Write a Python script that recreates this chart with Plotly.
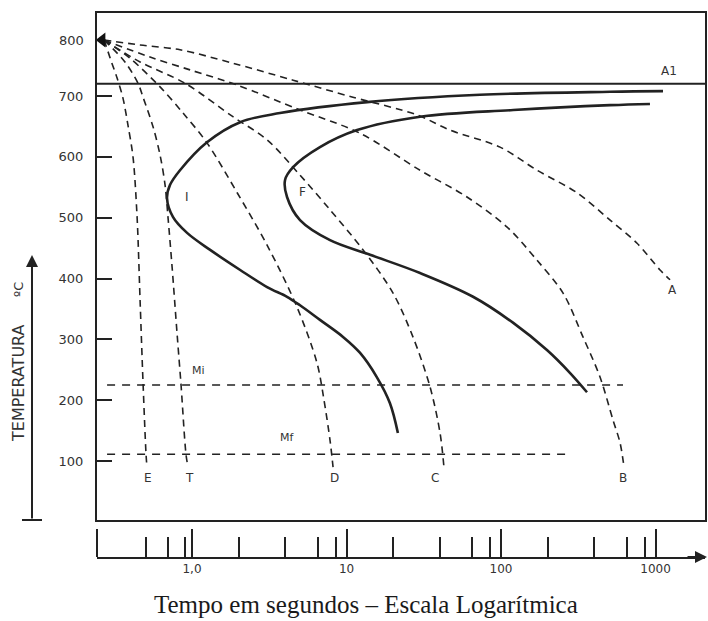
import math
import plotly.graph_objects as go

# ---- data (time in s, temperature in °C) ----
start_t, start_T = 0.27, 792

E_t = [0.27, 0.303, 0.327, 0.357, 0.385, 0.415, 0.441, 0.461, 0.482, 0.504, 0.511]
E_T = [792, 754, 730, 697, 652, 600, 501, 365, 228, 111, 90]

T_t = [0.27, 0.368, 0.447, 0.482, 0.560, 0.621, 0.669, 0.699, 0.743, 0.800, 0.849, 0.914, 0.942]
T_T = [792, 756, 721, 698, 649, 603, 554, 501, 419, 310, 225, 111, 90]

D_t = [0.27, 0.397, 0.621, 0.875, 1.25, 1.96, 3.06, 4.78, 6.44, 7.15, 7.82, 8.18]
D_T = [792, 762, 715, 672, 623, 541, 455, 353, 261, 200, 134, 90]

C_t = [0.27, 0.461, 0.901, 1.84, 3.06, 5.00, 7.82, 12.8, 20.0, 26.9, 34.7, 40.3, 42.7]
C_T = [792, 756, 721, 666, 628, 570, 513, 447, 376, 304, 222, 146, 90]

B_t = [0.27, 0.535, 0.97, 1.96, 5.0, 12.2, 29.9, 60.2, 109, 171, 252, 339, 437, 531, 589, 625]
B_T = [792, 764, 743, 718, 677, 639, 578, 534, 485, 430, 376, 304, 238, 167, 130, 90]

A_t = [0.27, 0.461, 0.836, 1.84, 4.51, 11.0, 28.6, 46.7, 98.5, 171, 310, 508, 759, 1069, 1241]
A_T = [792, 784, 776, 754, 726, 698, 669, 644, 616, 578, 541, 496, 458, 414, 398]

I_t = [1117, 508, 73.1, 13.6, 3.71, 2.05, 1.25, 0.836, 0.721, 0.689, 0.754, 0.929, 1.31,
       2.05, 3.06, 4.12, 5.00, 6.73, 9.49, 12.2, 15.7, 19.1, 21.5]
I_T = [708, 707, 702, 690, 672, 657, 624, 578, 554, 532, 501, 475, 447,
       414, 386, 370, 356, 332, 304, 278, 238, 195, 146]

F_t = [920, 508, 120, 29.9, 11.7, 6.73, 4.51, 4.0, 4.12, 5.0, 7.82, 14.2, 29.9, 65.9,
       120, 199, 279, 360]
F_T = [687, 685, 677, 666, 644, 616, 583, 562, 534, 496, 463, 439, 409, 370,
       327, 282, 245, 213]

A1_T = 720
Mi_t, Mi_T = [0.282, 616], 225
Mf_t, Mf_T = [0.282, 267], 111

curve_labels = ["E", "T", "D", "C", "B", "A"]
curve_label_t = [0.519, 0.956, 8.30, 37.4, 616, 1278]
curve_label_T = [72, 72, 72, 72, 72, 381]

other_labels = ["A1", "Mi", "Mf", "I", "F"]
other_label_t = [1222, 1.1, 4.12, 0.929, 5.15]
other_label_T = [741, 248, 139, 534, 542]
other_label_size = [12, 11, 11, 12, 12]

y_ticks = [100, 200, 300, 400, 500, 600, 700]
x_major = [1, 10, 100, 1000]
x_major_text = ["1,0", "10", "100", "1000"]
x_minor = [0.5, 0.7, 0.9, 2, 4, 6.5, 8.5, 20, 40, 65, 85, 200, 400, 650, 850]

XR = [-0.615, 3.32]
YR = [3, 836.5]
INK = "#222222"
TXT = "#333333"
W, H = 708, 621

fig = go.Figure()

dash_style = dict(color=INK, width=1.6, dash="7px,5px", shape="spline", smoothing=0.9)
for tt, TT in [(E_t, E_T), (T_t, T_T), (D_t, D_T), (C_t, C_T), (B_t, B_T), (A_t, A_T)]:
    fig.add_trace(go.Scatter(x=tt, y=TT, mode="lines", line=dash_style, hoverinfo="skip"))

solid_style = dict(color=INK, width=2.6, shape="spline", smoothing=1.0)
fig.add_trace(go.Scatter(x=I_t, y=I_T, mode="lines", line=solid_style, hoverinfo="skip"))
fig.add_trace(go.Scatter(x=F_t, y=F_T, mode="lines", line=solid_style, hoverinfo="skip"))

# Mi / Mf lines
hd = dict(color=INK, width=1.6, dash="8px,7px")
fig.add_trace(go.Scatter(x=Mi_t, y=[Mi_T, Mi_T], mode="lines", line=hd, hoverinfo="skip"))
fig.add_trace(go.Scatter(x=Mf_t, y=[Mf_T, Mf_T], mode="lines", line=hd, hoverinfo="skip"))

# start marker
fig.add_trace(go.Scatter(x=[0.262], y=[start_T], mode="markers",
                         marker=dict(symbol="triangle-left", size=13, color="#111"),
                         hoverinfo="skip"))

# bottom axis carrier (invisible)
fig.add_trace(go.Scatter(x=[1], y=[0.5], xaxis="x2", yaxis="y2", mode="markers",
                         marker=dict(opacity=0), hoverinfo="skip"))

ann = []
for s, tx, ty in zip(curve_labels, curve_label_t, curve_label_T):
    ann.append(dict(x=math.log10(tx), y=ty, xref="x", yref="y", text=s, showarrow=False,
                    font=dict(family="DejaVu Sans", size=12, color=TXT)))
for s, tx, ty, fs in zip(other_labels, other_label_t, other_label_T, other_label_size):
    ann.append(dict(x=math.log10(tx), y=ty, xref="x", yref="y", text=s, showarrow=False,
                    font=dict(family="DejaVu Sans", size=fs, color=TXT)))
# 800 label (no tick mark in the original)
ann.append(dict(x=97 / W, y=start_T, xref="paper", yref="y", text="800", showarrow=False,
                xanchor="right", xshift=-11,
                font=dict(family="DejaVu Sans", size=13, color=TXT)))
# left temperature arrow and labels
ann.append(dict(x=32 / W, y=(H - 255) / H, xref="paper", yref="paper", ax=0, ay=265,
                showarrow=True, arrowhead=2, arrowsize=1.2, arrowwidth=2, arrowcolor=INK, text=""))
ann.append(dict(x=18 / W, y=(H - 290) / H, xref="paper", yref="paper", text="ºC", textangle=-90,
                xanchor="center", yanchor="middle", showarrow=False,
                font=dict(family="DejaVu Sans", size=13, color=TXT)))
ann.append(dict(x=18 / W, y=(H - 383) / H, xref="paper", yref="paper", text="TEMPERATURA",
                textangle=-90, xanchor="center", yanchor="middle", showarrow=False,
                font=dict(family="DejaVu Sans", size=16, color=TXT)))
# bottom axis arrow
ann.append(dict(x=1.0, y=(H - 557) / H, xref="paper", yref="paper", ax=-22, ay=0,
                showarrow=True, arrowhead=2, arrowsize=1.2, arrowwidth=2, arrowcolor=INK, text=""))
# title
ann.append(dict(x=366 / W, y=(H - 604) / H, xref="paper", yref="paper",
                xanchor="center", yanchor="middle",
                text="Tempo em segundos – Escala Logarítmica", showarrow=False,
                font=dict(family="Liberation Serif", size=25, color="#1a1a1a")))

shapes = [
    dict(type="line", xref="x domain", x0=0, x1=1, yref="y", y0=A1_T, y1=A1_T,
         line=dict(color=INK, width=2)),
    dict(type="line", xref="paper", x0=97 / W, x1=97 / W, yref="paper",
         y0=(H - 557) / H, y1=(H - 529) / H, line=dict(color=INK, width=2)),
    dict(type="line", xref="paper", x0=22 / W, x1=42 / W, yref="paper",
         y0=(H - 520) / H, y1=(H - 520) / H, line=dict(color=INK, width=2)),
]

dom_x = [97 / W, 705 / W]
fig.update_layout(
    width=W, height=H, margin=dict(l=0, r=0, t=0, b=0),
    paper_bgcolor="white", plot_bgcolor="white", showlegend=False,
    annotations=ann, shapes=shapes,
    xaxis=dict(type="log", range=XR, domain=dom_x, anchor="y", showline=True, mirror=True,
               linecolor=INK, linewidth=2, showgrid=False, zeroline=False,
               showticklabels=False, ticks=""),
    yaxis=dict(range=YR, domain=[(H - 520) / H, (H - 13) / H], anchor="x", showline=True,
               mirror=True, linecolor=INK, linewidth=2, showgrid=False, zeroline=False,
               tickvals=y_ticks, ticks="inside", ticklen=15, tickwidth=2, tickcolor=INK,
               ticklabelstandoff=9, tickfont=dict(family="DejaVu Sans", size=13, color=TXT)),
    xaxis2=dict(type="log", range=XR, domain=dom_x, anchor="y2", showline=True,
                linecolor=INK, linewidth=2, showgrid=False, zeroline=False,
                tickvals=x_major, ticktext=x_major_text, ticks="inside", ticklen=28,
                tickwidth=2, tickcolor=INK,
                tickfont=dict(family="DejaVu Sans", size=12, color=TXT),
                minor=dict(tickvals=x_minor, ticks="inside", ticklen=20, tickwidth=2,
                           tickcolor=INK, showgrid=False)),
    yaxis2=dict(domain=[(H - 557) / H, (H - 522) / H], range=[0, 1], visible=False,
                anchor="x2"),
)

fig.write_html("out.html")
